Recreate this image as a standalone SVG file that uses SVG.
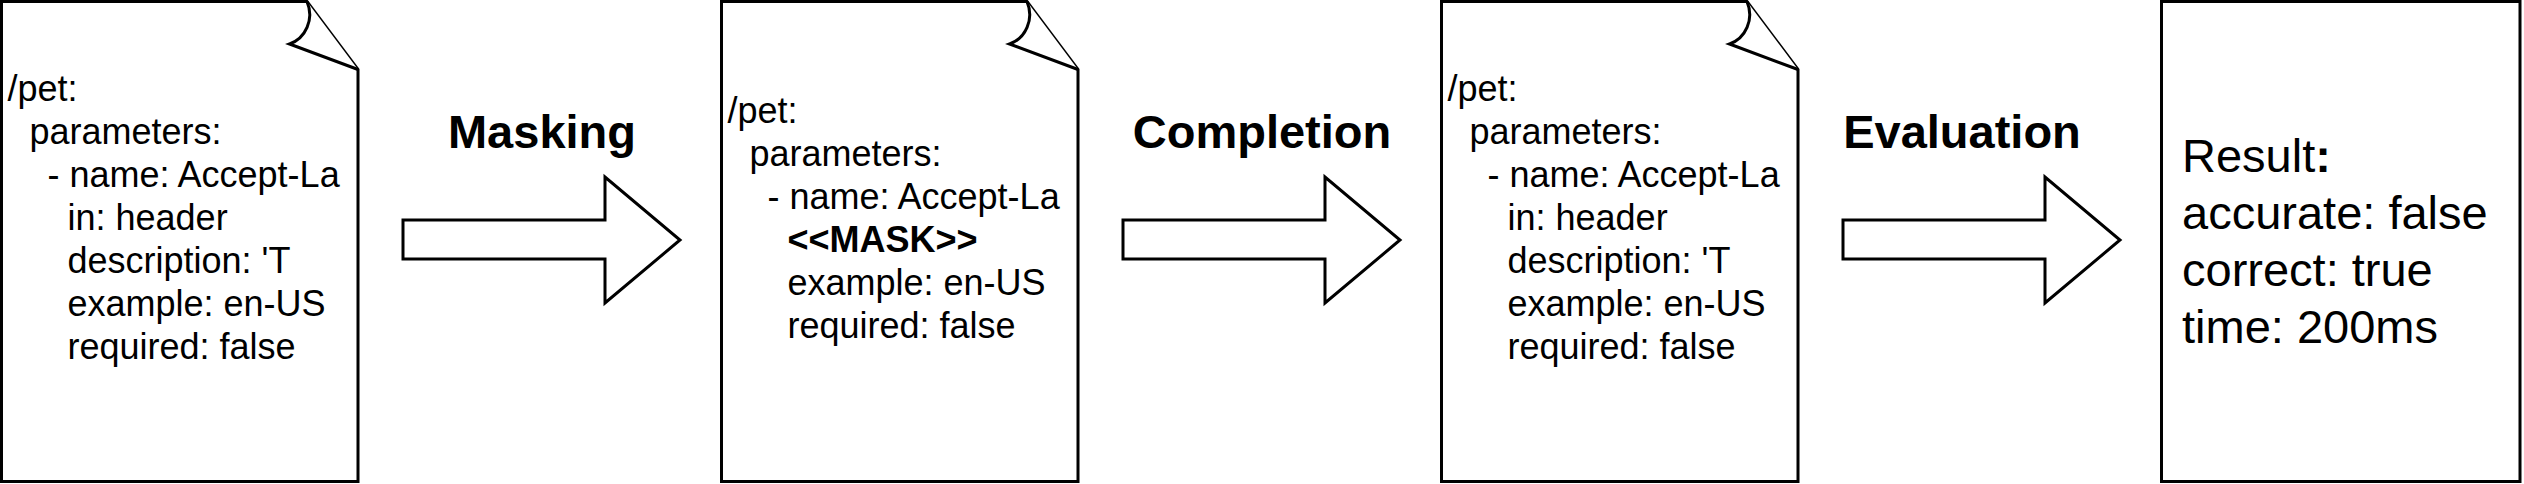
<svg xmlns="http://www.w3.org/2000/svg" width="2524" height="484" viewBox="0 0 2524 484">
<style>
.shape{fill:#fff;stroke:#000;stroke-width:3;stroke-linejoin:miter}
.t{font-family:"Liberation Sans",Arial,Helvetica,sans-serif;font-size:36px;fill:#000}
.b{font-weight:bold}
.lbl{font-family:"Liberation Sans",Arial,Helvetica,sans-serif;font-size:47px;font-weight:bold;fill:#000;text-anchor:middle}
.res{font-family:"Liberation Sans",Arial,Helvetica,sans-serif;font-size:47px;fill:#000}
</style>
<defs>
<g id="doc">
<path class="shape" d="M0,0 H305.5 L356.5,68 V480 H0 Z"/>
<path class="shape" d="M305.5,0 C313,18 304,37 288,42.5 L356.5,68"/>
</g>
</defs>
<g id="doc1" transform="translate(1.5,1.5)">
<use href="#doc"/>
<text class="t" x="6" y="99">/pet:</text>
<text class="t" x="28" y="142">parameters:</text>
<text class="t" x="46" y="185">- name: Accept-La</text>
<text class="t" x="66" y="228">in: header</text>
<text class="t" x="66" y="271">description: 'T</text>
<text class="t" x="66" y="314">example: en-US</text>
<text class="t" x="66" y="357">required: false</text>
</g>
<g id="doc2" transform="translate(721.5,1.5)">
<use href="#doc"/>
<text class="t" x="6" y="121">/pet:</text>
<text class="t" x="28" y="164">parameters:</text>
<text class="t" x="46" y="207">- name: Accept-La</text>
<text class="t b" x="66" y="250">&lt;&lt;MASK&gt;&gt;</text>
<text class="t" x="66" y="293">example: en-US</text>
<text class="t" x="66" y="336">required: false</text>
</g>
<g id="doc3" transform="translate(1441.5,1.5)">
<use href="#doc"/>
<text class="t" x="6" y="99">/pet:</text>
<text class="t" x="28" y="142">parameters:</text>
<text class="t" x="46" y="185">- name: Accept-La</text>
<text class="t" x="66" y="228">in: header</text>
<text class="t" x="66" y="271">description: 'T</text>
<text class="t" x="66" y="314">example: en-US</text>
<text class="t" x="66" y="357">required: false</text>
</g>
<g id="result">
<rect class="shape" x="2161.5" y="1.5" width="358.5" height="480"/>
<text class="res" x="2182" y="172">Result<tspan class="b">:</tspan></text>
<text class="res" x="2182" y="229">accurate: false</text>
<text class="res" x="2182" y="286">correct: true</text>
<text class="res" x="2182" y="343">time: 200ms</text>
</g>
<g id="connectors">
<path class="shape" d="M403,220 H605 V177 L680,240 L605,303 V259 H403 Z"/>
<text class="lbl" x="542" y="148">Masking</text>
<path class="shape" d="M1123,220 H1325 V177 L1400,240 L1325,303 V259 H1123 Z"/>
<text class="lbl" x="1262" y="148">Completion</text>
<path class="shape" d="M1843,220 H2045 V177 L2120,240 L2045,303 V259 H1843 Z"/>
<text class="lbl" x="1962" y="148">Evaluation</text>
</g>
</svg>
